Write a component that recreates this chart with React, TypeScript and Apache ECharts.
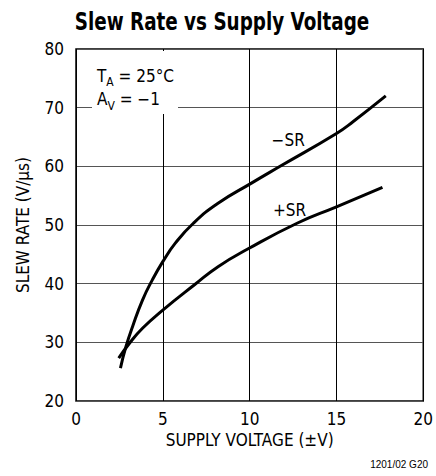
import React, { useEffect, useRef } from "react";
import * as echarts from "echarts";

const FONT = "'Liberation Sans Narrow', 'DejaVu Sans Condensed', 'Roboto Condensed', Arial, sans-serif";

const xTicks = [0, 5, 10, 15, 20];
const yTicks = [20, 30, 40, 50, 60, 70, 80];

// -SR curve (supply voltage ±V, slew rate V/µs)
const negSRx = [2.56, 2.88, 3.26, 3.83, 4.39, 5.0, 5.72, 6.76, 8.18, 10.08, 11.78, 15.0, 15.95, 17.84];
const negSRy = [25.6, 29.3, 32.7, 37.2, 40.6, 43.75, 46.9, 50.3, 53.7, 57.1, 60.05, 65.6, 67.6, 72.0];

// +SR curve
const posSRx = [2.46, 3.07, 3.83, 5.0, 6.86, 8.18, 9.89, 12.73, 15.0, 17.65];
const posSRy = [27.3, 29.8, 32.4, 35.5, 39.9, 42.9, 45.9, 50.3, 53.1, 56.4];

const curveLabels = [
  { text: "\u2212SR", x: 12.22, y: 64.5 },
  { text: "+SR", x: 12.3, y: 52.56 },
];

export default function App() {
  const ref = useRef<HTMLDivElement>(null);
  useEffect(() => {
    if (!ref.current) return;
    const chart = echarts.init(ref.current, null, { renderer: "svg" });
    const zip = (xs: number[], ys: number[]) => xs.map((x, i) => [x, ys[i]]);
    const richAnno = {
      m: { fontFamily: FONT, fontSize: 17, fill: "#000", lineHeight: 20, verticalAlign: "top" },
      s: { fontFamily: FONT, fontSize: 12, fill: "#000", lineHeight: 14, padding: [9, 0, 0, 0], verticalAlign: "top" },
    };
    chart.setOption({
      animation: false,
      backgroundColor: "#fff",
      grid: {
        left: 76,
        top: 49,
        width: 352,
        height: 352,
        show: true,
        borderColor: "#000",
        borderWidth: 1.5,
        backgroundColor: "transparent",
      },
      xAxis: {
        type: "value",
        min: xTicks[0],
        max: xTicks[xTicks.length - 1],
        interval: 5,
        name: "SUPPLY VOLTAGE (\u00b1V)",
        nameLocation: "middle",
        nameGap: 30,
        nameTextStyle: { fontFamily: FONT, fontSize: 17, color: "#000" },
        axisLine: { show: false },
        axisTick: { show: false },
        axisLabel: { fontFamily: FONT, fontSize: 17, color: "#000", margin: 9 },
        splitLine: { show: true, lineStyle: { color: "#000", width: 1 } },
      },
      yAxis: {
        type: "value",
        min: yTicks[0],
        max: yTicks[yTicks.length - 1],
        interval: 10,
        name: "SLEW RATE (V/\u00b5s)",
        nameLocation: "middle",
        nameGap: 45,
        nameTextStyle: { fontFamily: FONT, fontSize: 17, color: "#000" },
        axisLine: { show: false },
        axisTick: { show: false },
        axisLabel: { fontFamily: FONT, fontSize: 17, color: "#000", margin: 12 },
        splitLine: { show: true, lineStyle: { color: "#555", width: 1 } },
      },
      series: [
        {
          type: "line",
          name: "-SR",
          data: zip(negSRx, negSRy),
          smooth: 0.5,
          showSymbol: false,
          lineStyle: { color: "#000", width: 3 },
          z: 5,
        },
        {
          type: "line",
          name: "+SR",
          data: zip(posSRx, posSRy),
          smooth: 0.5,
          showSymbol: false,
          lineStyle: { color: "#000", width: 3 },
          z: 5,
        },
      ],
      graphic: [
        {
          id: "title",
          type: "text",
          x: 222,
          y: 21,
          scaleX: 0.85,
          style: {
            text: "Slew Rate vs Supply Voltage",
            fontFamily: FONT,
            fontWeight: "bold",
            fontSize: 24,
            fill: "#000",
            textAlign: "center",
            textVerticalAlign: "middle",
          },
        },
        {
          id: "annoBg",
          type: "rect",
          shape: { x: 92, y: 51, width: 86, height: 63 },
          style: { fill: "#fff" },
          z: 1,
        },
        {
          id: "annoT",
          type: "text",
          x: 97,
          y: 67,
          z: 2,
          style: {
            text: "{m|T}{s|A}{m| = 25\u00b0C}",
            rich: richAnno,
            textVerticalAlign: "top",
          },
        },
        {
          id: "annoA",
          type: "text",
          x: 97,
          y: 90.5,
          z: 2,
          style: {
            text: "{m|A}{s|V}{m| = \u22121}",
            rich: richAnno,
            textVerticalAlign: "top",
          },
        },
        {
          id: "foot",
          type: "text",
          x: 428,
          y: 464,
          style: {
            text: "1201/02 G20",
            fontFamily: "'Liberation Sans', Arial, sans-serif",
            fontSize: 10,
            fill: "#000",
            textAlign: "right",
            textVerticalAlign: "middle",
          },
        },
      ],
    });
    const labelEls = curveLabels.map((l, i) => {
      const p = chart.convertToPixel({ gridIndex: 0 }, [l.x, l.y]) as number[];
      return {
        id: "curveLabel" + i,
        type: "text",
        x: p[0],
        y: p[1],
        z: 10,
        style: {
          text: l.text,
          fontFamily: FONT,
          fontSize: 17,
          fill: "#000",
          textAlign: "center",
          textVerticalAlign: "middle",
        },
      };
    });
    chart.setOption({ graphic: labelEls });
    return () => chart.dispose();
  }, []);
  return (
    <div
      ref={ref}
      style={{ position: "fixed", left: 0, top: 0, width: 436, height: 476 }}
    />
  );
}
